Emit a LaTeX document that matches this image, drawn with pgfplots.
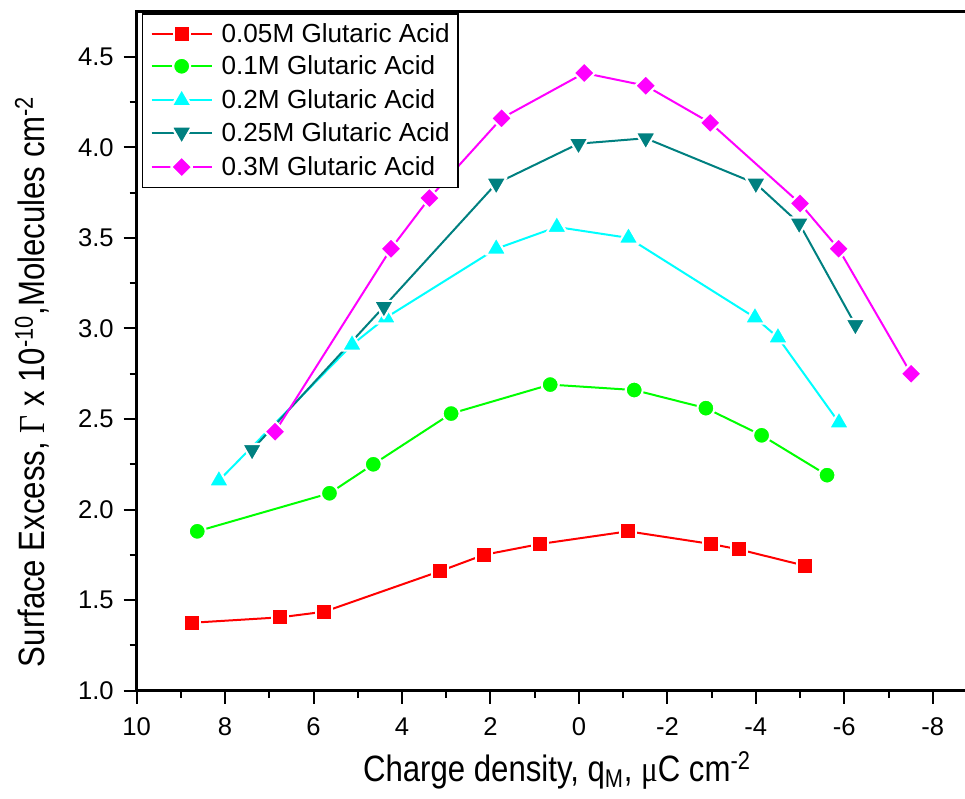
\documentclass[border=0pt]{standalone}
\usepackage{pgfplots}
\pgfplotsset{compat=1.18}
\usepackage{fontspec}
\setmainfont{Liberation Sans}
\newfontfamily\narrowfont[FakeStretch=0.85]{Liberation Sans}
\newfontfamily\narrowserif[FakeStretch=0.85]{Liberation Serif}
\definecolor{gaRed}{RGB}{255,0,0}
\definecolor{gaGreen}{RGB}{0,255,0}
\definecolor{gaCyan}{RGB}{0,255,255}
\definecolor{gaTeal}{RGB}{0,128,128}
\definecolor{gaMag}{RGB}{255,0,255}
\pgfplotsset{gamark/.style={line width=1.5pt,mark options={solid,draw=white,fill=#1,line width=1.6pt,line join=round}}}
\begin{document}
\begin{tikzpicture}
\useasboundingbox (-102.5pt,-81.2pt) rectangle (621.2pt,518pt);
\begin{axis}[
  scale only axis, width=630.2pt, height=509.4pt,
  x dir=reverse, xmin=-9, xmax=10, ymin=1, ymax=4.75,
  xtick={-8,-6,...,10}, ytick={1,1.5,...,4.5},
  minor x tick num=1, minor y tick num=1,
  tick align=outside, tick pos=left,
  major tick length=9.75pt, minor tick length=5.25pt,
  axis line style={line width=1.9pt},
  every tick/.style={black,line width=1.5pt},
  ticklabel style={font=\fontsize{19.2}{21}\selectfont,/pgf/number format/assume math mode=true},
  xticklabel style={yshift=-7pt},
  yticklabel style={xshift=-4pt,/pgf/number format/.cd,fixed,fixed zerofill,precision=1},
  xlabel={\narrowfont Charge density, q\textsubscript{M}, {\narrowserif μ}C cm\textsuperscript{-2}},
  ylabel={\narrowfont Surface Excess, {\narrowserif Γ} x 10\textsuperscript{-10},Molecules cm\textsuperscript{-2}},
  label style={font=\fontsize{27.5}{30}\selectfont},
  x label style={at={(axis description cs:0.5,0)},anchor=base,yshift=-68.25pt},
  y label style={at={(axis description cs:0,0.455)},anchor=base,yshift=68.8pt},
  legend image code/.code={\draw[mark repeat=2,mark phase=2,#1] plot coordinates {(0pt,0pt) (22.5pt,0pt) (45pt,0pt)};},
  legend cell align=left,
  legend style={at={(axis description cs:0,1)},anchor=north west,xshift=3.75pt,yshift=-1.35pt,
    draw=black,line width=1.1pt,fill=white,font=\fontsize{19.6}{24.2}\selectfont,
    inner xsep=6.2pt,inner ysep=7.5pt,row sep=9.2pt,
    nodes={inner sep=0pt,text height=14pt,text depth=1pt},
    /tikz/every odd column/.append style={column sep=6.75pt}},
]
\addplot[gaRed,gamark=gaRed,mark=square*,mark size=6.05pt] coordinates {
(8.76,1.375) (6.76,1.405) (5.76,1.436) (3.14,1.66) (2.15,1.75) (0.88,1.81) (-1.11,1.88) (-2.99,1.81) (-3.62,1.78) (-5.11,1.69)};
\addlegendentry{0.05M Glutaric Acid}
\addplot[gaGreen,gamark=gaGreen,mark=*,mark size=6.4pt] coordinates {
(8.63,1.88) (5.64,2.09) (4.65,2.25) (2.89,2.53) (0.65,2.69) (-1.25,2.66) (-2.87,2.56) (-4.13,2.41) (-5.61,2.19)};
\addlegendentry{0.1M Glutaric Acid}
\addplot[gaCyan,gamark=gaCyan,mark=triangle*,mark size=8.8pt] coordinates {
(8.14,2.16) (5.13,2.91) (4.36,3.06) (1.87,3.44) (0.50,3.56) (-1.12,3.50) (-3.98,3.06) (-4.50,2.95) (-5.88,2.48)};
\addlegendentry{0.2M Glutaric Acid}
\addplot[gaTeal,gamark=gaTeal,every mark/.append style={rotate=180},mark=triangle*,mark size=8.8pt] coordinates {
(7.39,2.33) (4.41,3.12) (1.87,3.80) (0.01,4.02) (-1.51,4.05) (-4.00,3.80) (-4.98,3.58) (-6.25,3.02)};
\addlegendentry{0.25M Glutaric Acid}
\addplot[gaMag,gamark=gaMag,every mark/.append style={rotate=45},mark=square*,mark size=5.6pt] coordinates {
(6.87,2.43) (4.25,3.44) (3.38,3.72) (1.75,4.16) (-0.12,4.41) (-1.51,4.34) (-2.97,4.135) (-5.00,3.69) (-5.87,3.44) (-7.51,2.75)};
\addlegendentry{0.3M Glutaric Acid}
\end{axis}
\end{tikzpicture}
\end{document}
